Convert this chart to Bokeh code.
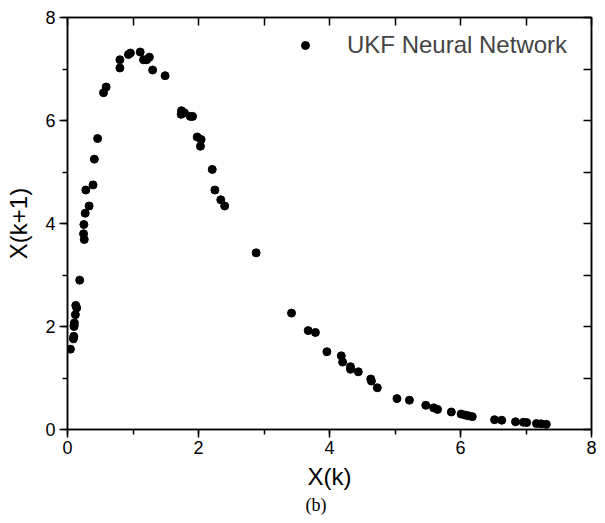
from bokeh.plotting import figure
from bokeh.models import (LinearAxis, SingleIntervalTicker, CustomJSTickFormatter,
                          Title, Legend, LegendItem, Range1d, ColumnDataSource)
from bokeh.embed import file_html
from bokeh.resources import INLINE

series_name = "UKF Neural Network"
x_k = [0.045, 0.09, 0.096, 0.10, 0.10, 0.105, 0.12, 0.14, 0.126, 0.186,
       0.256, 0.245, 0.25, 0.27, 0.33, 0.28, 0.39, 0.41, 0.46, 0.55,
       0.59, 0.80, 0.80, 0.93, 0.96, 1.11, 1.16, 1.21, 1.25, 1.30,
       1.49, 1.74, 1.735, 1.785, 1.875, 1.91, 1.98, 2.04, 2.03, 2.21,
       2.25, 2.34, 2.40, 2.88, 3.42, 3.675, 3.785, 3.96, 4.18, 4.20,
       4.32, 4.32, 4.44, 4.63, 4.64, 4.73, 5.03, 5.22, 5.47, 5.59,
       5.65, 5.86, 6.01, 6.07, 6.12, 6.18, 6.52, 6.63, 6.84, 6.96,
       7.01, 7.16, 7.23, 7.31]
x_k1 = [1.56, 1.76, 1.81, 2.00, 2.02, 2.07, 2.23, 2.36, 2.41, 2.90,
        3.69, 3.80, 3.98, 4.20, 4.34, 4.65, 4.75, 5.25, 5.65, 6.54,
        6.65, 7.02, 7.18, 7.28, 7.31, 7.33, 7.18, 7.18, 7.23, 6.98,
        6.87, 6.19, 6.12, 6.15, 6.08, 6.08, 5.68, 5.63, 5.50, 5.05,
        4.65, 4.46, 4.34, 3.43, 2.26, 1.92, 1.885, 1.51, 1.43, 1.31,
        1.22, 1.17, 1.12, 0.98, 0.94, 0.81, 0.60, 0.57, 0.47, 0.42,
        0.39, 0.34, 0.30, 0.28, 0.265, 0.25, 0.19, 0.18, 0.15, 0.14,
        0.135, 0.115, 0.11, 0.10]
x_label = "X(k)"
y_label = "X(k+1)"
caption = "(b)"

FONT = "Liberation Sans"

p = figure(width=597, height=515,
           x_range=Range1d(0, 8), y_range=Range1d(0, 8),
           output_backend="svg", toolbar_location=None,
           min_border_left=67, min_border_right=6,
           min_border_top=17, min_border_bottom=86,
           background_fill_color="white", border_fill_color="white")
p.xgrid.visible = False
p.ygrid.visible = False
p.outline_line_color = "black"
p.outline_line_width = 1.5

src = ColumnDataSource(dict(x=x_k, y=x_k1))
r = p.scatter("x", "y", source=src, size=8, color="black")

for ax in (p.xaxis[0], p.yaxis[0]):
    ax.ticker = SingleIntervalTicker(interval=2, num_minor_ticks=2)
    ax.major_tick_in = 0
    ax.major_tick_out = 8
    ax.minor_tick_in = 0
    ax.minor_tick_out = 5
    ax.axis_line_color = "black"
    ax.major_tick_line_color = "black"
    ax.minor_tick_line_color = "black"
    ax.axis_line_width = 1.5
    ax.major_tick_line_width = 1.5
    ax.minor_tick_line_width = 1.5
    ax.major_label_text_font = FONT
    ax.major_label_text_font_size = "18px"
    ax.major_label_text_color = "black"
    ax.axis_label_text_font = FONT
    ax.axis_label_text_font_size = "24px"
    ax.axis_label_text_font_style = "normal"
    ax.axis_label_text_color = "black"
p.xaxis[0].axis_label = x_label
p.yaxis[0].axis_label = y_label
p.xaxis[0].major_label_standoff = 3
p.yaxis[0].major_label_standoff = 4
p.xaxis[0].axis_label_standoff = 6
p.yaxis[0].axis_label_standoff = 10

for place in ("above", "right"):
    ax = LinearAxis(ticker=SingleIntervalTicker(interval=1, num_minor_ticks=0),
                    formatter=CustomJSTickFormatter(code="return ''"))
    ax.major_tick_in = 8
    ax.major_tick_out = 0
    ax.minor_tick_in = 0
    ax.minor_tick_out = 0
    ax.axis_line_color = "black"
    ax.major_tick_line_color = "black"
    ax.axis_line_width = 1.5
    ax.major_tick_line_width = 1.5
    ax.major_label_standoff = 0
    p.add_layout(ax, place)

legend = Legend(items=[LegendItem(label=series_name, renderers=[r])],
                location=(228, 370))
legend.background_fill_alpha = 0
legend.border_line_color = None
legend.padding = 0
legend.margin = 0
legend.glyph_width = 20
legend.glyph_height = 20
legend.label_standoff = 32
legend.label_text_font = FONT
legend.label_text_font_size = "24px"
p.add_layout(legend)

t = Title(text=caption, align="left", offset=238,
          text_font="Liberation Serif", text_font_size="18px",
          text_font_style="normal", text_color="black", standoff=0)
p.add_layout(t, "below")

open("out.html", "w").write(file_html(p, INLINE))
